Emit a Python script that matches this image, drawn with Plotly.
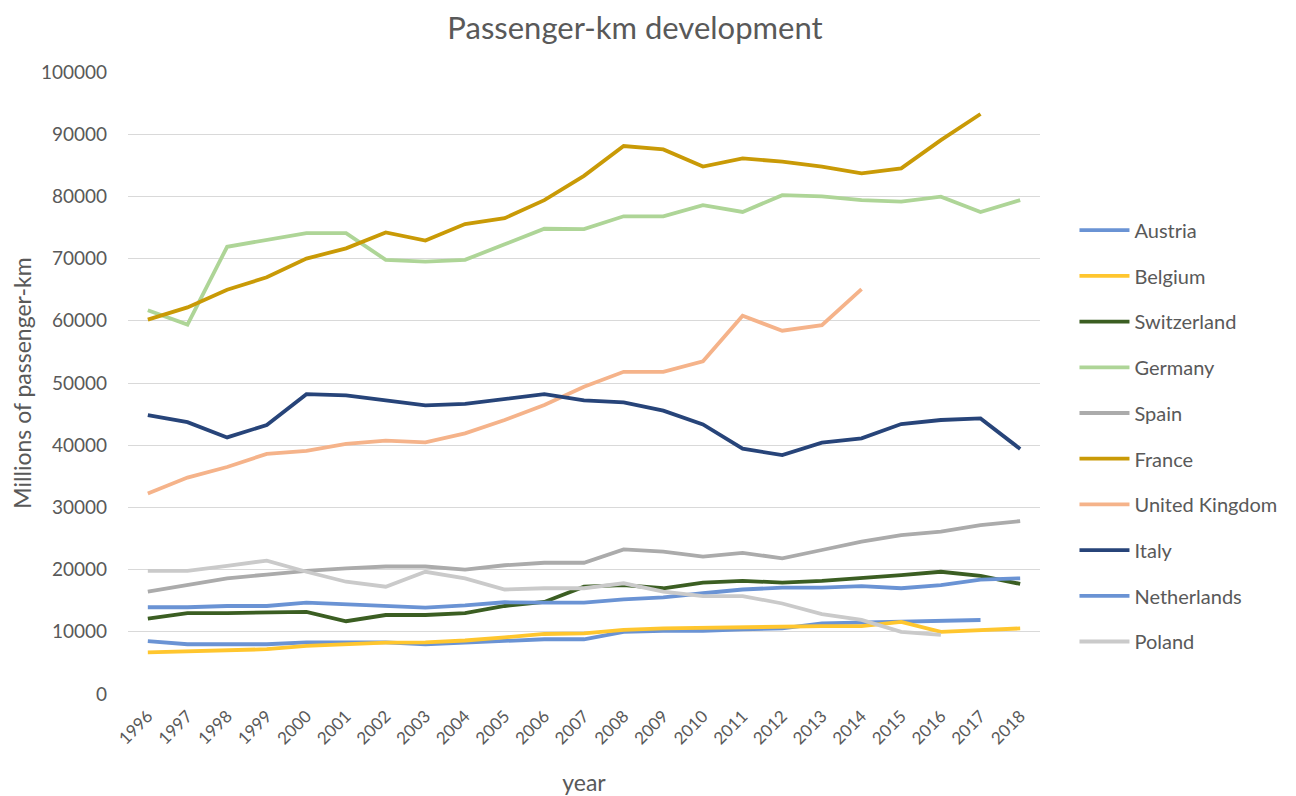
import plotly.graph_objects as go

years = [str(y) for y in range(1996, 2019)]

austria = [8500, 8000, 8000, 8000, 8300, 8300, 8300, 8000, 8250, 8500, 8800, 8800,
           10000, 10150, 10150, 10400, 10550, 11350, 11450, 11600, 11700, 11900, None]
belgium = [6700, 6900, 7000, 7200, 7750, 8000, 8250, 8300, 8600, 9100, 9650, 9750,
           10300, 10550, 10650, 10800, 10800, 10900, 10900, 11600, 10000, 10300, 10550]
switzerland = [12100, 13000, 13000, 13100, 13200, 11700, 12700, 12700, 13000, 14150, 14800, 17250,
               17500, 17000, 17900, 18200, 17900, 18200, 18600, 19100, 19650, 19000, 17700]
germany = [61700, 59400, 71900, 73000, 74100, 74100, 69800, 69500, 69800, 72300, 74800, 74750,
           76800, 76800, 78600, 77500, 80200, 80000, 79400, 79150, 79950, 77500, 79400]
spain = [16450, 17600, 18600, 19200, 19800, 20200, 20500, 20500, 20000, 20700, 21100, 21100,
         23250, 22900, 22100, 22700, 21800, 23150, 24500, 25550, 26100, 27150, 27800]
france = [60200, 62150, 65000, 67000, 70000, 71650, 74200, 72900, 75550, 76500, 79400, 83300,
          88100, 87550, 84800, 86100, 85600, 84800, 83700, 84500, 89050, 93250, None]
uk = [32250, 34800, 36500, 38600, 39100, 40200, 40750, 40450, 41900, 44050, 46450, 49400,
      51800, 51800, 53500, 60800, 58400, 59300, 65100, None, None, None, None]
italy = [44850, 43700, 41250, 43250, 48200, 48000, 47200, 46400, 46650, 47400, 48200, 47200,
         46900, 45550, 43350, 39450, 38400, 40400, 41100, 43400, 44050, 44300, 39400]
netherlands = [13950, 13950, 14150, 14150, 14700, 14400, 14150, 13900, 14250, 14750, 14700, 14700,
               15200, 15550, 16200, 16800, 17100, 17100, 17350, 17000, 17500, 18400, 18600]
poland = [19800, 19800, 20600, 21450, 19650, 18050, 17250, 19650, 18600, 16800, 17000, 17000,
          17800, 16450, 15750, 15750, 14550, 12850, 11900, 10000, 9500, None, None]

series = [
    ("Austria", austria, "#6A93D4"),
    ("Belgium", belgium, "#FFC62E"),
    ("Switzerland", switzerland, "#3B5E22"),
    ("Germany", germany, "#AED597"),
    ("Spain", spain, "#ABABAB"),
    ("France", france, "#C99A06"),
    ("United Kingdom", uk, "#F5B38A"),
    ("Italy", italy, "#274479"),
    ("Netherlands", netherlands, "#6A93D4"),
    ("Poland", poland, "#CACACA"),
]

FONT = "Lato"
GREY = "#595959"

fig = go.Figure()
for name, vals, col in series:
    fig.add_trace(go.Scatter(
        x=years, y=vals, name=name, mode="lines",
        line=dict(color=col, width=3.8),
        legendgroup=name, connectgaps=False,
    ))

fig.update_layout(
    width=1296, height=796,
    paper_bgcolor="white", plot_bgcolor="white",
    margin=dict(l=120, r=264, t=64, b=110),
    title=dict(text="Passenger-km development", x=0.4838, xanchor="center",
               y=0.975, yanchor="middle",
               font=dict(family=FONT, size=31, color=GREY)),
    font=dict(family=FONT, color=GREY),
    showlegend=True,
    legend=dict(x=1.0378, xanchor="left", y=0.777, yanchor="top",
                font=dict(family=FONT, size=20, color=GREY),
                tracegroupgap=16.7, itemwidth=50,
                bgcolor="rgba(0,0,0,0)"),
    xaxis=dict(type="category", range=[-0.5, 22.5], tickangle=-45,
               automargin=False, ticklabelstandoff=8,
               tickfont=dict(family=FONT, size=17, color=GREY),
               showgrid=False, zeroline=False, showline=False, ticks="",
               title=dict(text="year", font=dict(family=FONT, size=23, color=GREY),
                          standoff=27)),
    yaxis=dict(range=[0, 100000], dtick=10000, tickformat="d",
               automargin=False, ticklabelstandoff=20,
               tickfont=dict(family=FONT, size=19, color=GREY),
               showgrid=True, gridcolor="#D9D9D9", gridwidth=1,
               zeroline=False, showline=False, ticks="", ticklen=0,
               title=dict(text="Millions of passenger-km",
                          font=dict(family=FONT, size=23, color=GREY),
                          standoff=14)),
)

fig.write_html("out.html")
